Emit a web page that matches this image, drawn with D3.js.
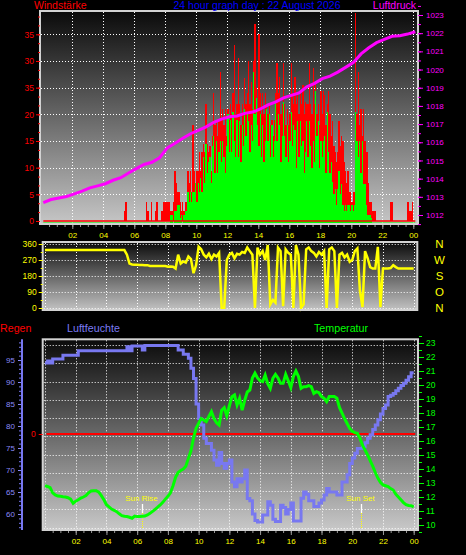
<!DOCTYPE html>
<html><head><meta charset="utf-8">
<script src="https://cdn.jsdelivr.net/npm/d3@7/dist/d3.min.js"></script>
<style>
html,body{margin:0;padding:0;background:#000;overflow:hidden}
svg{display:block}
text{font-family:"Liberation Sans",Arial,sans-serif}
</style></head><body>
<svg id="chart" width="466" height="555"></svg>
<script>
// ================= DATA =================
const chartTitle = "24 hour graph day : 22 August 2026";
const topLeftTitle = "Windstärke";
const topRightTitle = "Luftdruck";
const rainTitle = "Regen";
const humTitle = "Luftfeuchte";
const tempTitle = "Temperatur";

const hourTickValues = [2,4,6,8,10,12,14,16,18,20,22,24];
const hourTickLabels = ["02","04","06","08","10","12","14","16","18","20","22","00"];
const windTickValues = [0,5,10,15,20,25,30,35];
const windTickLabels = ["0","5","10","15","20","35","30","35"];
const pressureTickValues = [1012,1013,1014,1015,1016,1017,1018,1019,1020,1021,1022,1023];
const dirTickValues = [0,90,180,270,360];
const compassLabels = ["N","O","S","W","N"];
const humTickValues = [60,65,70,75,80,85,90,95];
const tempTickValues = [10,11,12,13,14,15,16,17,18,19,20,21,22,23];
const rainTickValues = [0];
const sunEvents = [{label:"Sun Rise", hour:6.33},{label:"Sun Set", hour:20.59}];

// wind gusts (km/h), 5-minute samples from 00:00
const windGust = [
0,0,0,0,0,0,0,0,0,0,0,0,0,0,0,0,
0,0,0,0,0,0,0,0,0,0,0,0,0,0,0,0,
0,0,0,0,0,0,0,0,0,0,0,0,0,0,0,0,
0,0,0,0,0,0,0,0,0,0,0,0,0,0,0,0,
1.8,3.6,0,0,0,0,0,0,0,0,0,0,0,0,0,0,
0,3.6,1.8,0,0,3.6,0,0,1.8,3.6,0,0,0,1.8,3.6,3.6,
3.6,3.6,3.6,3.6,1.8,1.8,3.6,9.4,7.2,5.4,5.4,3.6,1.8,3.6,1.8,3.6,
3.6,9.4,7.2,9.4,5.4,18,9.4,7.2,9.4,9.4,13,9.4,13,14.4,13,22,
14.4,13,14,9.4,16,24,18,19,16,19,28,19,21,18,21,16,
21,19,22,20,24,33,20,22,30.5,22,18,22,20,26.8,22,24,
30,22,26,21,30,37,25,21,35,24,20,24,20,24,22,20,
22,18,19,16,19,24,29.6,24,27,20,22,29.6,22,18,21,18,
20,29.6,24,22,27,22,24,20,24,22,25.5,20,22.4,22,22,29.6,
22,20,28.6,22,26,20,22,18,24.3,20,24.3,23.6,18,22,24.3,20,
16,18.7,14,13,11,13,18.7,14,16,15,11,9.3,7.2,9.3,5.4,5.4,
3.6,5.4,5.4,39,20,28,18,21,16,21,15,13,13,7.2,3.6,3.6,
1.8,1.8,1.8,0,0,0,0,0,0,0,0,0,0,0,3.6,3.6,
0,0,0,0,0,0,0,0,0,0,0,3.6,3.6,1.8,1.8,3.6
];
// average wind (km/h), 5-minute samples from 00:00
const windAvg = [
0,0,0,0,0,0,0,0,0,0,0,0,0,0,0,0,
0,0,0,0,0,0,0,0,0,0,0,0,0,0,0,0,
0,0,0,0,0,0,0,0,0,0,0,0,0,0,0,0,
0,0,0,0,0,0,0,0,0,0,0,0,0,0,0,0,
0,0,0,0,0,0,0,0,0,0,0,0,0,0,0,0,
0,0,0,0,0,0,0,0,0,0,0,0,0,0,0,0,
0,0,0,0,1.2,1.2,0,1.8,1.8,3,3,0.6,1.2,0,1.2,1.8,
1.8,5.4,3.6,5.4,3.6,5.4,5.4,7.2,3.6,7.2,5.4,8,5.4,12,7.2,14.4,
9,11,12,7.2,14,16,9,15,9,13,15,11,15,12,9,14,
20,13,19,13,20.5,15,12,19,12,18.7,11,18,14,21,16,20,
18.7,13,18,15,28,20,23,18,14,20,12,18,11,15,21,15,
20,12,18,12,15,22.4,15,20,18,11,16,22.4,16,12,18,11,
15,20.5,14,18,17,10,18.7,12,18.7,14,15,9,13,18.7,12,18.7,
14,10,15,11,24.3,16,18.7,10,15,12,15,16,9,20.5,13,9,
11,7.4,5,6,3,6,9.3,5,7,3,1.8,3,1.8,3,3,1.8,
3,1.8,3,20.5,15,12,15,9,15,7,7,3,1.2,1.2,1.2,0.6,
0,0,0,0,0,0,0,0,0,0,0,0,0,0,0,0,
0,0,0,0,0,0,0,0,0,0,0,0,0,0,0,0
];
// air pressure (hPa), 30-minute samples 00:00..24:00
const pressure = [
1012.68,1012.85,1012.94,1013.02,1013.16,1013.31,1013.49,1013.60,1013.72,1013.91,
1014.05,1014.31,1014.55,1014.78,1014.90,1015.15,1015.69,1015.95,1016.22,1016.47,
1016.65,1016.85,1017.10,1017.27,1017.40,1017.45,1017.59,1017.66,1017.83,1018.06,
1018.22,1018.44,1018.58,1018.72,1019.05,1019.24,1019.50,1019.64,1019.86,1020.12,
1020.38,1020.86,1021.20,1021.48,1021.66,1021.83,1021.86,1021.95,1022.08
];
// wind direction (degrees), 10-minute samples 00:00..24:00
const windDir = [
326,326,326,326,326,326,326,326,326,326,326,326,326,326,326,326,
326,326,326,326,326,326,326,326,326,326,326,326,326,326,326,326,
300,250,245,243,243,242,242,241,241,
236,236,236,236,236,236,236,
232,233,232,
222,300,250,262,255,290,275,196,240,
345,330,300,285,305,275,300,290,310,
0,0,
270,300,310,280,305,300,315,310,340,320,300,
0,
340,300,320,270,354,
20,45,30,
340,320,
10,
330,310,300,
0,
354,300,
0,20,
330,340,320,310,290,315,300,320,
0,
330,340,320,
0,
300,310,285,300,260,270,320,335,
97,5,
320,280,230,222,222,
344,5,
222,222,222,225,241,230,222,222,222,222,222,222,222
];
// relative humidity (%), 10-minute samples 00:00..24:00
const humidity = [
94.3,94.8,94.3,95.2,95.2,95.2,95.2,96.1,96.1,96.1,96.1,96.1,96.1,
97.1,97.1,97.1,97.1,97.1,97.1,97.1,97.1,97.1,97.1,97.1,97.1,97.1,97.1,97.1,97.1,97.1,97.1,97.1,
98,97.1,98.2,98.2,98.2,98.2,97.3,
98.3,98.3,98.3,98.3,98.3,98.3,98.3,98.3,98.3,98.3,98.3,98.3,98.3,
97.3,97.3,96.3,96.3,
95.4,93.1,90.8,85,81.7,80.2,77.2,76,76,74.5,72.3,71.1,74,71.5,70.4,71.5,72.3,67.3,66.2,68,
67.3,68,70,63.5,63,60,58.5,58.2,58.2,59.8,59.8,62.8,62,58.8,58.3,58.3,62,61.5,60,61,62.5,
58.4,58.4,58.4,
63.6,65,64.5,63,63,61.7,61.7,62.5,63.2,64.3,65.8,
65,65,65,64.3,64.3,67.3,67.3,
68.9,71.5,72.7,73.8,74.9,74.9,
75.3,76.2,77.2,78,79.2,80.2,81.4,82.7,84,84.8,86.7,87,87.4,88,88.6,89.2,89.7,90.4,91.2,92.1,92.1
];
// temperature (°C), 10-minute samples 00:00..24:00
const temperature = [
12.8,12.75,12.67,12.3,12.15,12.07,12.05,12.02,12.0,11.95,11.85,11.55,11.7,11.8,11.92,12.0,
12.1,12.3,12.43,12.45,12.45,12.35,12.1,11.8,11.45,11.3,11.14,11.05,10.95,10.8,10.67,10.62,
10.6,10.55,10.48,10.64,10.6,10.6,10.62,10.64,10.72,10.83,10.97,11.12,11.27,11.43,11.62,11.85,
12.05,12.3,12.8,13.4,13.75,13.9,14.0,14.2,14.76,15.3,16.2,16.9,17.26,17.6,17.5,17.38,
17.75,18.1,17.6,17.3,17.14,18.2,18.38,17.8,18.5,19.17,19.29,18.57,19.05,18.21,18.9,19.5,
19.64,20.5,20.84,20.5,20.3,20.24,20.71,20.1,19.76,20.48,20.76,20.5,20.12,20.12,20.76,20.3,
19.81,20.6,21.0,20.6,19.76,19.88,19.88,19.95,19.88,19.4,19.52,19.45,19.17,19.05,18.81,19.17,
19.17,19.17,19.05,18.4,18.0,17.6,17.25,16.9,16.7,16.6,16.55,16.2,15.7,15.35,15.0,14.6,
14.2,13.75,13.35,13.05,12.86,12.8,12.74,12.6,12.5,12.2,12.0,11.8,11.6,11.45,11.4,11.38,
11.3
];
// rain (mm), hourly 00..24
const rain = [0,0,0,0,0,0,0,0,0,0,0,0,0,0,0,0,0,0,0,0,0,0,0,0,0];

// ================= DRAWING =================
const svg = d3.select("#chart");
const defs = svg.append("defs");
function addGrad(id, c0, c1){
  const g = defs.append("linearGradient").attr("id", id)
    .attr("x1",0).attr("y1",0).attr("x2",0).attr("y2",1);
  g.append("stop").attr("offset","0%").attr("stop-color",c0);
  g.append("stop").attr("offset","100%").attr("stop-color",c1);
}
addGrad("gTop","#0a0a0a","#c6c6c6");
addGrad("gMid","#0a0a0a","#c2c2c2");
addGrad("gBot","#0a0a0a","#c8c8c8");

const P1 = {x:40, y:11, w:378, h:213};
const P2 = {x:42.7, y:242, w:374.6, h:68};
const P3 = {x:42.7, y:339.3, w:375.3, h:190.7};

const xTop = d3.scaleLinear().domain([0,24]).range([41.3,413.3]);
const xBot = d3.scaleLinear().domain([0,24]).range([45,413.7]);
const yWind = d3.scaleLinear().domain([0,35]).range([221,34.3]);
const yPress = d3.scaleLinear().domain([1012,1023]).range([215,15]);
const yDir = d3.scaleLinear().domain([0,360]).range([308,244]);
const yHum = d3.scaleLinear().domain([60,95]).range([514,360]);
const yTemp = d3.scaleLinear().domain([10,23]).range([525,343]);
const yRain = d3.scaleLinear().domain([0,1]).range([434,400]);
const yGrid = d3.scaleLinear().domain([0,10]).range([345,527.7]);

const FONT = '"Liberation Sans", Arial, sans-serif';
const snap = v => Math.round(v) + 0.5;

function panelBg(P, grad){
  svg.append("rect").attr("x",P.x).attr("y",P.y).attr("width",P.w).attr("height",P.h)
    .attr("fill",`url(#${grad})`);
}
function panelBorder(P){
  svg.append("rect").attr("x",P.x).attr("y",P.y).attr("width",P.w).attr("height",P.h)
    .attr("fill","none").attr("stroke","#d2d2d2").attr("stroke-width",2);
}
function hGrid(P, ys){
  svg.append("g").selectAll("line").data(ys).join("line")
    .attr("x1",P.x+1).attr("x2",P.x+P.w-1)
    .attr("y1",d=>snap(d)).attr("y2",d=>snap(d))
    .attr("stroke","#ffffff").attr("stroke-width",1).attr("stroke-dasharray","1,2");
}
function vGrid(P, xs){
  svg.append("g").selectAll("line").data(xs).join("line")
    .attr("y1",P.y+1).attr("y2",P.y+P.h-1)
    .attr("x1",d=>snap(d)).attr("x2",d=>snap(d))
    .attr("stroke","#ffffff").attr("stroke-width",1).attr("stroke-dasharray","1,2");
}
function styleAxis(g, color, size){
  g.select(".domain").remove();
  g.attr("font-family",FONT).attr("font-size",size);
  g.selectAll("line").attr("stroke",color);
  g.selectAll("text").attr("fill",color);
}

// ---------- TOP PANEL ----------
panelBg(P1,"gTop");
hGrid(P1, windTickValues.filter(d=>d>0).map(yWind));
vGrid(P1, hourTickValues.map(xTop));

const stepW = 1/12;
const gBars = svg.append("g").attr("shape-rendering","crispEdges");
gBars.selectAll("rect.g").data(windGust.map((v,i)=>({v,h:i*stepW})).filter(d=>d.v>0)).join("rect")
  .attr("x",d=>xTop(d.h)).attr("width",d=>xTop(d.h+stepW)-xTop(d.h))
  .attr("y",d=>Math.max(yWind(d.v),P1.y+1)).attr("height",d=>yWind(0)-Math.max(yWind(d.v),P1.y+1)).attr("fill","#ff0000");
gBars.selectAll("rect.a").data(windAvg.map((v,i)=>({v,h:i*stepW})).filter(d=>d.v>0)).join("rect")
  .attr("x",d=>xTop(d.h)).attr("width",d=>xTop(d.h+stepW)-xTop(d.h))
  .attr("y",d=>yWind(d.v)).attr("height",d=>yWind(0)-yWind(d.v)+2).attr("fill","#00ff00");
// zero lines of gust and average
svg.append("line").attr("x1",xTop(0)+2).attr("x2",xTop(24)+2).attr("y1",yWind(0)).attr("y2",yWind(0))
  .attr("stroke","#ff0000").attr("stroke-width",1.5);
svg.append("line").attr("x1",xTop(0)+2).attr("x2",xTop(24)+2).attr("y1",yWind(0)+2.3).attr("y2",yWind(0)+2.3)
  .attr("stroke","#00ff00").attr("stroke-width",1.5);

svg.append("path").datum(pressure)
  .attr("d", d3.line().x((d,i)=>xTop(i*0.5)+2).y(d=>yPress(d)))
  .attr("fill","none").attr("stroke","#ff00ff").attr("stroke-width",3);
panelBorder(P1);

// axes top
svg.append("g").attr("transform",`translate(${P1.x},0)`)
  .call(d3.axisLeft(yWind).tickValues(d3.range(0,39.6,5/3)).tickSize(2).tickFormat(""))
  .call(g=>styleAxis(g,"#ff0000",8));
svg.append("g").attr("transform",`translate(${P1.x},0)`)
  .call(d3.axisLeft(yWind).tickValues(windTickValues).tickSize(4).tickPadding(2).tickFormat((d,i)=>windTickLabels[i]))
  .call(g=>styleAxis(g,"#ff0000",8.5));
svg.append("g").attr("transform",`translate(${P1.x+P1.w},0)`)
  .call(d3.axisRight(yPress).tickValues(d3.range(1011.5,1023.6,0.5)).tickSize(3).tickFormat(""))
  .call(g=>styleAxis(g,"#ff00ff",8));
svg.append("g").attr("transform",`translate(${P1.x+P1.w},0)`)
  .call(d3.axisRight(yPress).tickValues(pressureTickValues).tickSize(5).tickPadding(3).tickFormat(d3.format("d")))
  .call(g=>styleAxis(g,"#ff00ff",8));
svg.append("g").attr("transform",`translate(0,${P1.y+P1.h+1})`)
  .call(d3.axisBottom(xTop).tickValues(d3.range(0.5,24.1,0.5)).tickSize(2).tickFormat(""))
  .call(g=>styleAxis(g,"#9a9a9a",8));
svg.append("g").attr("transform",`translate(0,${P1.y+P1.h+1})`)
  .call(d3.axisBottom(xTop).tickValues(hourTickValues).tickSize(4).tickPadding(3).tickFormat((d,i)=>hourTickLabels[i]))
  .call(g=>styleAxis(g,"#9a9a9a",8))
  .call(g=>g.selectAll("text").attr("fill","#ffff00"));

// ---------- titles (drawn above the panel) ----------
svg.append("text").attr("x",34).attr("y",8.6).attr("fill","#ff0000")
  .attr("font-size",10.5).text(topLeftTitle);
svg.append("text").attr("x",257).attr("y",8.6).attr("fill","#0000ff")
  .attr("font-size",10.5).attr("text-anchor","middle").text(chartTitle);
svg.append("text").attr("x",416).attr("y",8.6).attr("fill","#ff00ff")
  .attr("font-size",10.5).attr("text-anchor","end").text(topRightTitle);

// ---------- MIDDLE PANEL ----------
panelBg(P2,"gMid");
hGrid(P2, dirTickValues.map(yDir));
vGrid(P2, [0].concat(hourTickValues).map(xBot));
svg.append("path").datum(windDir)
  .attr("d", d3.line().x((d,i)=>xBot(i/6)).y(d=>yDir(d)))
  .attr("fill","none").attr("stroke","#ffff00").attr("stroke-width",2.5);
panelBorder(P2);
svg.append("g").attr("transform",`translate(${P2.x},0)`)
  .call(d3.axisLeft(yDir).tickValues([45,135,225,315]).tickSize(2).tickFormat(""))
  .call(g=>styleAxis(g,"#ffff00",8));
svg.append("g").attr("transform",`translate(${P2.x},0)`)
  .call(d3.axisLeft(yDir).tickValues(dirTickValues).tickSize(4).tickPadding(2).tickFormat(d3.format("d")))
  .call(g=>styleAxis(g,"#ffff00",8.5));
svg.append("g").selectAll("text").data(dirTickValues).join("text")
  .attr("x",439.5).attr("y",d=>yDir(d)).attr("dy","0.36em").attr("text-anchor","middle")
  .attr("font-size",11.5).attr("fill","#ffff00").text((d,i)=>compassLabels[i]);

// ---------- BOTTOM PANEL ----------
svg.append("text").attr("x",0).attr("y",331.5).attr("fill","#ff0000").attr("font-size",10.7).text(rainTitle);
svg.append("text").attr("x",67).attr("y",331.5).attr("fill","#7b7bf5").attr("font-size",10.7).text(humTitle);
svg.append("text").attr("x",314).attr("y",331.5).attr("fill","#00ff00").attr("font-size",10.7).text(tempTitle);

panelBg(P3,"gBot");
hGrid(P3, d3.range(0,11).map(yGrid));
vGrid(P3, [0].concat(hourTickValues).map(xBot));

svg.append("path").datum(rain)
  .attr("d", d3.line().x((d,i)=>xBot(i)+1.5).y(d=>yRain(d)))
  .attr("fill","none").attr("stroke","#ff0000").attr("stroke-width",2);

// sun rise / set markers
const sunG = svg.append("g");
sunEvents.forEach(s=>{
  const x = snap(xBot(s.hour));
  sunG.append("line").attr("x1",x).attr("x2",x).attr("y1",513).attr("y2",P3.y+P3.h-1)
    .attr("stroke","#ffff00").attr("stroke-width",1).attr("stroke-dasharray","1,1");
  sunG.append("line").attr("x1",x).attr("x2",x).attr("y1",504).attr("y2",513)
    .attr("stroke","#ffffff").attr("stroke-width",1.3);
  sunG.append("text").attr("x",x-1).attr("y",500.5).attr("text-anchor","middle")
    .attr("font-size",8).attr("fill","#ffff00").text(s.label);
});

svg.append("path").datum(humidity)
  .attr("d", d3.line().curve(d3.curveStepAfter).x((d,i)=>xBot(i/6)).y(d=>yHum(d)))
  .attr("fill","none").attr("stroke","#7878f0").attr("stroke-width",3);
svg.append("path").datum(temperature)
  .attr("d", d3.line().x((d,i)=>xBot(i/6)).y(d=>yTemp(d)))
  .attr("fill","none").attr("stroke","#00ff00").attr("stroke-width",3);
panelBorder(P3);

// humidity axis
svg.append("line").attr("x1",22).attr("x2",22).attr("y1",P3.y).attr("y2",P3.y+P3.h)
  .attr("stroke","#7878f0").attr("stroke-width",2);
svg.append("g").attr("transform","translate(21,0)")
  .call(d3.axisLeft(yHum).tickValues(d3.range(57,100,1)).tickSize(2).tickFormat(""))
  .call(g=>styleAxis(g,"#7878f0",8));
svg.append("g").attr("transform","translate(21,0)")
  .call(d3.axisLeft(yHum).tickValues(humTickValues).tickSize(3).tickPadding(3).tickFormat(d3.format("d")))
  .call(g=>styleAxis(g,"#8a8af8",8));
// rain axis
svg.append("g").attr("transform",`translate(${P3.x},0)`)
  .call(d3.axisLeft(yRain).tickValues(rainTickValues).tickSize(4).tickPadding(3).tickFormat(d3.format("d")))
  .call(g=>styleAxis(g,"#ff0000",8.5));
// temperature axis
svg.append("g").attr("transform",`translate(${P3.x+P3.w+1},0)`)
  .call(d3.axisRight(yTemp).tickValues(d3.range(9.5,23.6,0.5)).tickSize(3).tickFormat(""))
  .call(g=>styleAxis(g,"#00ff00",8));
svg.append("g").attr("transform",`translate(${P3.x+P3.w+1},0)`)
  .call(d3.axisRight(yTemp).tickValues(tempTickValues).tickSize(5).tickPadding(2).tickFormat(d3.format("d")))
  .call(g=>styleAxis(g,"#00ff00",8.5));
// bottom time axis
svg.append("g").attr("transform",`translate(0,${P3.y+P3.h+1})`)
  .call(d3.axisBottom(xBot).tickValues(d3.range(0.5,24.1,0.5)).tickSize(2).tickFormat(""))
  .call(g=>styleAxis(g,"#9a9a9a",8));
svg.append("g").attr("transform",`translate(0,${P3.y+P3.h+1})`)
  .call(d3.axisBottom(xBot).tickValues(hourTickValues).tickSize(4).tickPadding(3).tickFormat((d,i)=>hourTickLabels[i]))
  .call(g=>styleAxis(g,"#9a9a9a",8))
  .call(g=>g.selectAll("text").attr("fill","#ffff00"));
</script>
</body></html>
